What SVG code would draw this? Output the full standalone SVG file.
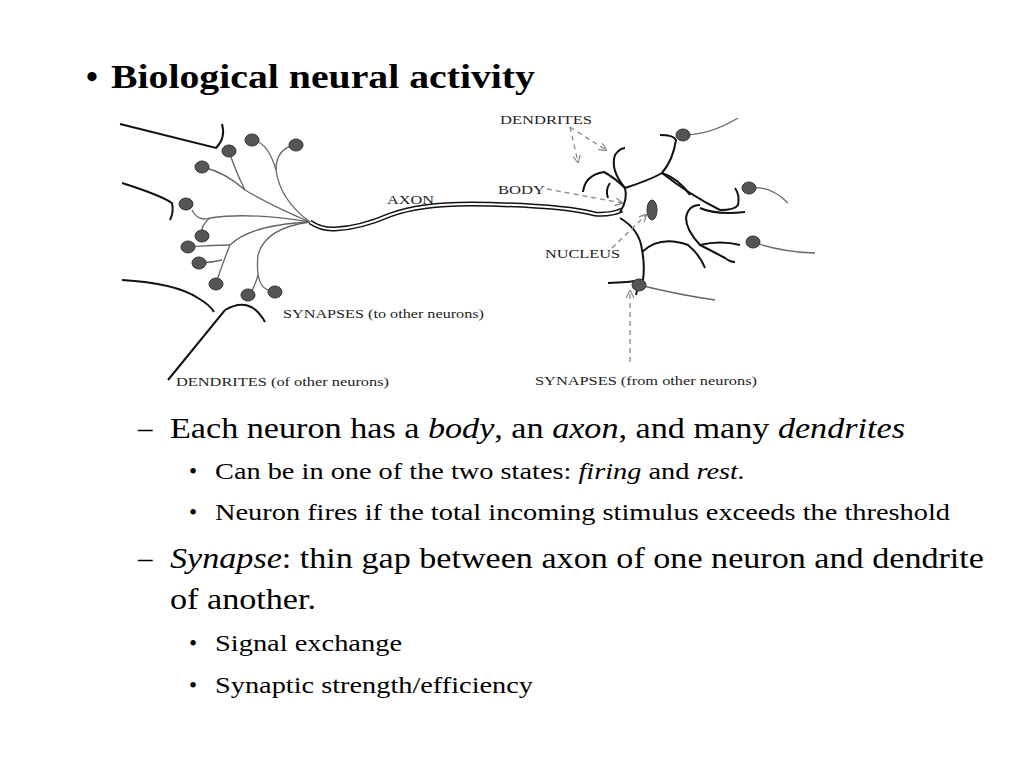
<svg xmlns="http://www.w3.org/2000/svg" width="1024" height="768" viewBox="0 0 1024 768">
<defs>
<marker id="ah" markerWidth="8" markerHeight="8" refX="7" refY="4" orient="auto" markerUnits="userSpaceOnUse"><path d="M0,0 L8,4 L0,8" fill="none" stroke="#888" stroke-width="1.2"/></marker>
<style>
.t{font-family:"Liberation Serif",serif;fill:#000}
.lb{font-family:"Liberation Serif",serif;font-size:13px;fill:#222}
.d{fill:none;stroke:#111;stroke-width:2}
.b{fill:none;stroke:#666;stroke-width:1.3}
.s{fill:#555;stroke:#333;stroke-width:1}
.da{fill:none;stroke:#888;stroke-width:1.3;stroke-dasharray:5,4;marker-end:url(#ah)}
</style>
</defs>
<rect width="1024" height="768" fill="#fff"/>
<text class="t" x="86" y="88" font-size="34" font-weight="bold">•</text>
<text class="t" x="111" y="88" font-size="34" font-weight="bold" textLength="424" lengthAdjust="spacingAndGlyphs">Biological neural activity</text>
<g id="neuron-left">
<path class="d" d="M120,124 L216,148 Q226,138 222,124"/>
<path class="d" d="M122,183 Q160,195 172,203 Q174,212 170,220"/>
<path class="d" d="M122,280 Q175,283 198,298 Q210,305 214,312"/>
<path class="d" d="M168,380 L225,310 Q250,295 265,322"/>
<path class="b" d="M310,222 Q270,205 245,190 Q235,170 229,151"/>
<path class="b" d="M245,190 Q225,172 202,167"/>
<path class="b" d="M310,222 Q280,200 276,170 Q276,148 296,145"/>
<path class="b" d="M276,170 Q268,142 252,140"/>
<path class="b" d="M310,222 Q250,212 210,218 Q198,222 192,210"/>
<path class="b" d="M210,218 Q200,225 202,236"/>
<path class="b" d="M310,222 Q250,225 230,245 Q220,270 216,284"/>
<path class="b" d="M230,245 Q215,245 188,247"/>
<path class="b" d="M222,260 Q210,263 199,263"/>
<path class="b" d="M310,222 Q265,228 258,255 Q255,285 268,290"/>
<path class="b" d="M258,275 Q254,290 248,295"/>
<ellipse class="s" cx="252" cy="140" rx="7" ry="6"/>
<ellipse class="s" cx="229" cy="151" rx="7" ry="6"/>
<ellipse class="s" cx="296" cy="145" rx="7" ry="6"/>
<ellipse class="s" cx="202" cy="167" rx="7" ry="6"/>
<ellipse class="s" cx="186" cy="204" rx="7" ry="6"/>
<ellipse class="s" cx="202" cy="236" rx="7" ry="6"/>
<ellipse class="s" cx="188" cy="247" rx="7" ry="6"/>
<ellipse class="s" cx="199" cy="263" rx="7" ry="6"/>
<ellipse class="s" cx="216" cy="284" rx="7" ry="6"/>
<ellipse class="s" cx="248" cy="295" rx="7" ry="6"/>
<ellipse class="s" cx="275" cy="292" rx="7" ry="6"/>
</g>
<g id="axon">
<path fill="none" stroke="#111" stroke-width="5" d="M310,222 Q322,230 335,229 Q360,228 390,215 Q420,204 470,204 Q560,205 595,214 Q612,215 622,210"/>
<path fill="none" stroke="#fff" stroke-width="2" d="M310,222 Q322,230 335,229 Q360,228 390,215 Q420,204 470,204 Q560,205 595,214 Q612,215 622,210"/>
</g>
<g id="neuron-right">
<path class="d" d="M620,212 Q628,200 625,188 Q615,178 604,172 Q585,175 583,192"/>
<path class="d" d="M625,188 Q610,170 615,155 Q620,148 625,148"/>
<path class="d" d="M610,183 Q605,190 608,198"/>
<path class="d" d="M625,188 Q650,180 662,173 Q673,160 676,140 Q674,135 660,135"/>
<path class="d" d="M662,173 Q678,178 690,195"/>
<path class="d" d="M662,173 Q690,195 720,210 Q735,210 738,205 Q740,195 735,188"/>
<path class="d" d="M700,205 Q688,205 686,218 Q686,230 700,245 Q710,250 725,258 Q730,262 735,262"/>
<path class="d" d="M700,245 Q720,240 740,245"/>
<path class="d" d="M700,208 Q715,215 745,212"/>
<path class="d" d="M620,218 Q640,230 642,250 Q645,265 643,280 Q625,283 608,283"/>
<path class="d" d="M642,252 Q660,235 688,245 Q700,255 705,268"/>
<path class="d" d="M643,280 Q637,288 636,295"/>
<path class="b" d="M683,135 Q710,135 738,118"/>
<path class="b" d="M749,188 Q770,185 788,203"/>
<path class="b" d="M753,242 Q780,252 815,253"/>
<path class="b" d="M639,285 Q680,295 715,300"/>
<ellipse class="s" cx="683" cy="135" rx="7" ry="6"/>
<ellipse class="s" cx="749" cy="188" rx="7" ry="6"/>
<ellipse class="s" cx="753" cy="242" rx="7" ry="6"/>
<ellipse class="s" cx="639" cy="285" rx="7" ry="6"/>
<ellipse class="s" cx="652" cy="210" rx="5" ry="10"/>
</g>
<g id="connectors">
<path class="da" d="M570,127 L606,150"/>
<path class="da" d="M570,127 L578,162"/>
<path class="da" d="M547,189 L622,203"/>
<path class="da" d="M612,248 L646,215"/>
<path class="da" d="M630,362 L630,291"/>
</g>
<g id="labels">
<text class="lb" x="500" y="124" textLength="92" lengthAdjust="spacingAndGlyphs">DENDRITES</text>
<text class="lb" x="498" y="194" textLength="47" lengthAdjust="spacingAndGlyphs">BODY</text>
<text class="lb" x="387" y="204" textLength="47" lengthAdjust="spacingAndGlyphs">AXON</text>
<text class="lb" x="545" y="258" textLength="75" lengthAdjust="spacingAndGlyphs">NUCLEUS</text>
<text class="lb" x="283" y="318" textLength="201" lengthAdjust="spacingAndGlyphs">SYNAPSES (to other neurons)</text>
<text class="lb" x="176" y="386" textLength="213" lengthAdjust="spacingAndGlyphs">DENDRITES (of other neurons)</text>
<text class="lb" x="535" y="385" textLength="222" lengthAdjust="spacingAndGlyphs">SYNAPSES (from other neurons)</text>
</g>
<g id="bullets" class="t">
<text x="138" y="438" font-size="29">–</text>
<text x="170" y="438" font-size="29" textLength="735" lengthAdjust="spacingAndGlyphs">Each neuron has a <tspan font-style="italic">body</tspan>, an <tspan font-style="italic">axon</tspan>, and many <tspan font-style="italic">dendrites</tspan></text>
<text x="189" y="479" font-size="23">•</text>
<text x="215" y="479" font-size="23" textLength="530" lengthAdjust="spacingAndGlyphs">Can be in one of the two states: <tspan font-style="italic">firing</tspan> and <tspan font-style="italic">rest.</tspan></text>
<text x="189" y="520" font-size="23">•</text>
<text x="215" y="520" font-size="23" textLength="735" lengthAdjust="spacingAndGlyphs">Neuron fires if the total incoming stimulus exceeds the threshold</text>
<text x="138" y="568" font-size="29">–</text>
<text x="170" y="568" font-size="29" textLength="814" lengthAdjust="spacingAndGlyphs"><tspan font-style="italic">Synapse</tspan>: thin gap between axon of one neuron and dendrite</text>
<text x="170" y="609" font-size="29" textLength="146" lengthAdjust="spacingAndGlyphs">of another.</text>
<text x="189" y="651" font-size="23">•</text>
<text x="215" y="651" font-size="23" textLength="187" lengthAdjust="spacingAndGlyphs">Signal exchange</text>
<text x="189" y="693" font-size="23">•</text>
<text x="215" y="693" font-size="23" textLength="318" lengthAdjust="spacingAndGlyphs">Synaptic strength/efficiency</text>
</g>
</svg>
